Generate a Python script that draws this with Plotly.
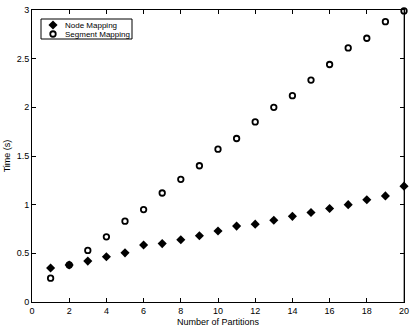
import plotly.graph_objects as go

partitions = list(range(1, 21))
node_mapping = [0.35, 0.38, 0.42, 0.465, 0.505, 0.585, 0.60, 0.64, 0.68, 0.73,
                0.78, 0.80, 0.84, 0.88, 0.92, 0.96, 1.00, 1.05, 1.09, 1.19]
segment_mapping = [0.245, 0.38, 0.53, 0.67, 0.83, 0.95, 1.12, 1.26, 1.40, 1.57,
                   1.68, 1.85, 2.00, 2.12, 2.28, 2.44, 2.61, 2.71, 2.88, 2.99]
legend_names = ["Node Mapping", "Segment Mapping"]

fnt = dict(family="Liberation Sans, Arial, sans-serif", size=9, color="black")
leg_fnt = dict(fnt, size=8)
node_marker = dict(symbol="diamond", size=7, color="black")
seg_marker = dict(symbol="circle-open", size=5.5, color="black", line=dict(width=1.8, color="black"))

fig = go.Figure()
fig.add_trace(go.Scatter(x=partitions, y=node_mapping, mode="markers", name=legend_names[0],
                         marker=node_marker, cliponaxis=False, showlegend=False))
fig.add_trace(go.Scatter(x=partitions, y=segment_mapping, mode="markers", name=legend_names[1],
                         marker=seg_marker, cliponaxis=False, showlegend=False))

# hand-made legend box (pixel coords on a hidden overlay axis)
fig.add_trace(go.Scatter(x=[53], y=[25], mode="markers", marker=node_marker,
                         xaxis="x2", yaxis="y2", showlegend=False, hoverinfo="skip"))
fig.add_trace(go.Scatter(x=[53], y=[34], mode="markers", marker=seg_marker,
                         xaxis="x2", yaxis="y2", showlegend=False, hoverinfo="skip"))
fig.add_shape(type="rect", xref="x2", yref="y2", x0=41, x1=132, y0=19, y1=39,
              line=dict(color="black", width=1), fillcolor="white", layer="below")
for name, yy in zip(legend_names, [25, 34]):
    fig.add_annotation(x=63, y=yy, xref="x2", yref="y2", text=name, showarrow=False,
                       xanchor="left", yanchor="middle", font=leg_fnt)

# right frame edge is grey in the original
fig.add_shape(type="line", xref="paper", yref="paper", x0=1, x1=1, y0=0, y1=1,
              line=dict(color="#888888", width=1.5), layer="below")

axis_style = dict(showline=True, linecolor="black", linewidth=1, mirror="ticks",
                  ticks="inside", ticklen=4, tickcolor="black", showgrid=False,
                  zeroline=False, tickfont=fnt, automargin=False)

fig.update_xaxes(range=[0, 20], dtick=2, title=dict(text="Number of Partitions", font=fnt, standoff=4),
                 **axis_style)
fig.update_yaxes(range=[0, 3], dtick=0.5, title=dict(text="Time (s)", font=fnt, standoff=4),
                 **axis_style)

fig.update_layout(width=414, height=327, margin=dict(l=32, r=10, t=10, b=25, autoexpand=False),
                  plot_bgcolor="rgba(0,0,0,0)", paper_bgcolor="white", font=fnt,
                  xaxis2=dict(overlaying="x", range=[32, 404], visible=False, fixedrange=True),
                  yaxis2=dict(overlaying="y", range=[302, 10], visible=False, fixedrange=True))

fig.write_html("out.html", config={"displayModeBar": False},
               post_script="document.body.style.margin='0';document.body.style.overflow='hidden';")
